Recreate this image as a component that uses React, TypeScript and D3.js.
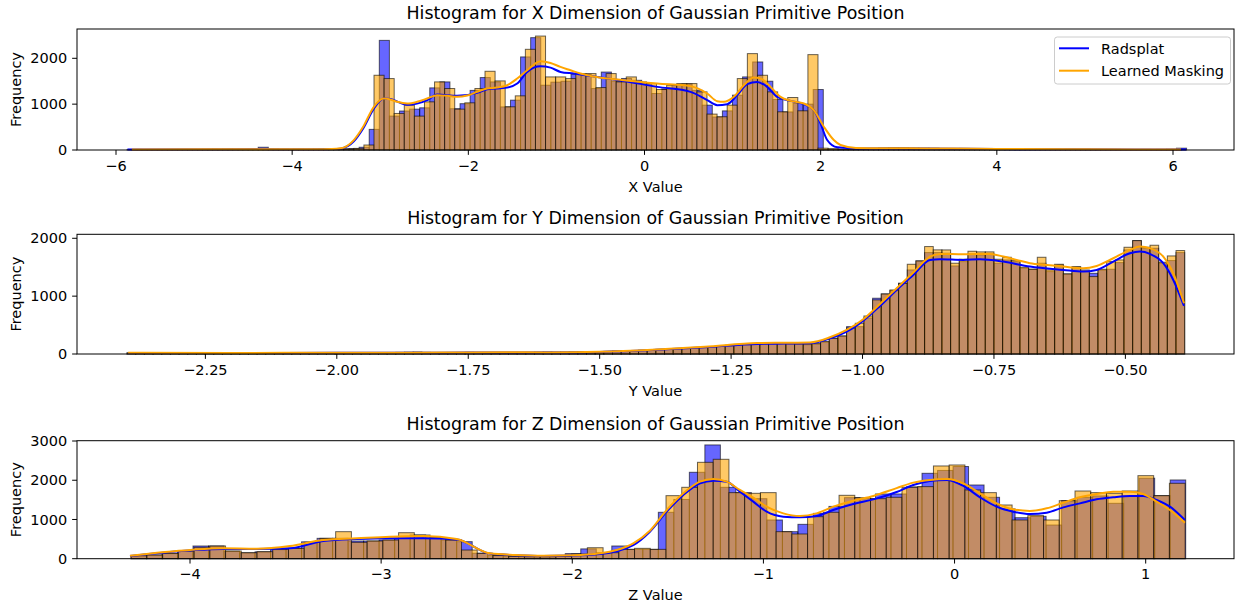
import React from "react";
import * as d3 from "d3";

// ---------------- DATA ----------------
// Panel X
const xTicks = [-6, -4, -2, 0, 2, 4, 6];
const xYTicks = [0, 1000, 2000];
const xOrangeStart = -5.8204;
const xBlueStart = -5.8748;
const xBinWidth = 0.11456;
const xOrangeCounts = [
  12, 8, 6, 10, 8, 12, 10, 14, 18, 22, 16, 12, 10, 12, 14, 16, 20, 18, 22, 26, 30,
  25, 35, 109, 1630, 1558, 797, 978, 739, 1050, 1485,
  1341, 891, 1029, 1341, 1717, 1507, 942, 1181, 2196, 2485,
  1594, 1594, 1558, 1667, 1667, 1362, 1667, 1485, 1594, 1485,
  1449, 1319, 1413, 1449, 1449, 1268, 783, 725, 978, 1558,
  2102, 1630, 1268, 833, 1145, 855, 2080, 40,
  30, 22, 18, 25, 35, 45, 50, 48, 42, 40, 38, 32, 30, 34, 28, 24, 22, 20, 18, 16,
  15, 14, 15, 13, 12, 14, 12, 10, 12, 11, 10, 12, 10, 9, 12,
];
const xBlueCounts = [
  10, 8, 6, 8, 10, 12, 8, 10, 14, 12, 16, 18, 20, 60, 22, 16, 12, 14, 16, 20, 22, 25, 30,
  60, 450, 2391, 740, 850, 891, 920, 1355, 1485, 900,
  1010, 1300, 1580, 1485, 940, 1087, 2030, 2450, 1413, 1480,
  1500, 1650, 1650, 1340, 1700, 1500, 1560, 1520, 1450, 1232,
  1330, 1430, 1440, 1300, 978, 720, 853, 1196, 1594, 1920,
  1500, 1101, 830, 1015, 1000, 1319,
  15, 12, 10, 12, 20, 28, 35, 38, 36, 30, 28, 25, 22, 24, 20, 18, 16, 15, 14, 13,
  12, 12, 11, 10, 12, 10, 9, 10, 11, 9, 10, 8, 10, 12, 15, 40,
];
const xOrangeKdeX = [-5.82, -5.0, -4.4, -4.0, -3.7, -3.55, -3.451, -3.3, -3.194, -3.073, -2.96, -2.884, -2.808, -2.694, -2.581, -2.467, -2.354, -2.24, -2.127, -2.013, -1.9, -1.786, -1.672, -1.559, -1.445, -1.332, -1.181, -1.067, -0.954, -0.84, -0.727, -0.613, -0.235, 0.144, 0.522, 0.712, 0.825, 0.901, 1.014, 1.128, 1.241, 1.317, 1.431, 1.544, 1.658, 1.809, 1.922, 2.036, 2.149, 2.225, 2.4, 2.7, 3.0, 3.5, 4.0, 5.0, 6.09];
const xOrangeKdeY = [12, 14, 18, 16, 18, 22, 36, 217, 507, 942, 1123, 1101, 1051, 1014, 1051, 1123, 1196, 1181, 1160, 1188, 1268, 1341, 1362, 1413, 1558, 1739, 1935, 1899, 1812, 1739, 1667, 1616, 1522, 1449, 1391, 1232, 1065, 1051, 1160, 1413, 1580, 1558, 1377, 1160, 1072, 1014, 870, 507, 217, 109, 45, 38, 40, 30, 22, 15, 12];
const xBlueKdeX = [-5.87, -5.0, -4.4, -4.0, -3.7, -3.55, -3.451, -3.3, -3.194, -3.073, -2.96, -2.884, -2.694, -2.467, -2.354, -2.127, -1.9, -1.786, -1.559, -1.445, -1.332, -1.181, -1.067, -0.954, -0.802, -0.613, -0.235, 0.144, 0.522, 0.712, 0.825, 0.939, 1.052, 1.166, 1.279, 1.393, 1.506, 1.658, 1.809, 1.922, 1.998, 2.074, 2.188, 2.4, 3.0, 4.0, 5.0, 6.15];
const xBlueKdeY = [12, 15, 22, 16, 16, 20, 30, 190, 470, 900, 1123, 1110, 985, 1087, 1210, 1181, 1246, 1326, 1362, 1449, 1703, 1826, 1797, 1703, 1667, 1616, 1507, 1377, 1268, 1087, 978, 1000, 1196, 1435, 1485, 1377, 1160, 1072, 1000, 870, 580, 217, 58, 35, 35, 20, 15, 12];

// Panel Y
const yTicks = [-2.25, -2.0, -1.75, -1.5, -1.25, -1.0, -0.75, -0.5];
const yYTicks = [0, 1000, 2000];
const yBinStart = -2.399;
const yBinWidth = 0.01649;
const yOrangeCounts = [
  20, 18, 15, 16, 14, 18, 15, 14, 16, 18, 15, 16, 18, 20, 18, 16, 18, 20, 22, 20,
  18, 22, 24, 20, 22, 25, 24, 22, 20, 22, 25, 28, 30, 32, 28, 25, 22, 24, 26, 28,
  25, 22, 20, 22, 24, 26, 28, 30, 32, 30, 32, 35, 38, 40, 42,
  45, 50, 55, 60, 66, 72, 80, 88, 95, 102, 110, 120, 130, 140, 152, 165, 175, 182, 188, 192,
  190, 185, 178, 172, 180, 215,
  271, 311, 450, 531, 657, 935, 1038, 1107, 1222, 1551,
  1609, 1857, 1800, 1799, 1569, 1638, 1776, 1765, 1765, 1638,
  1672, 1615, 1499, 1465, 1672, 1453, 1551, 1384, 1511, 1453,
  1338, 1465, 1597, 1626, 1845, 1960, 1845, 1880, 1586, 1695, 1788,
];
const yBlueCounts = [
  18, 16, 14, 15, 13, 16, 14, 13, 15, 16, 14, 15, 16, 18, 17, 15, 16, 18, 20, 19,
  17, 20, 22, 19, 20, 23, 22, 20, 19, 20, 23, 26, 28, 30, 26, 23, 20, 22, 24, 26,
  23, 20, 19, 20, 22, 24, 26, 28, 30, 28, 30, 32, 35, 37, 39,
  42, 46, 50, 55, 60, 66, 73, 80, 87, 94, 101, 110, 120, 130, 140, 152, 160, 168, 172, 176,
  175, 170, 165, 160, 170, 205,
  271, 311, 473, 473, 623, 964, 1038, 1096, 1222, 1453,
  1609, 1753, 1753, 1742, 1522, 1597, 1730, 1713, 1730, 1569,
  1626, 1597, 1482, 1465, 1569, 1424, 1540, 1384, 1500, 1430,
  1395, 1450, 1465, 1580, 1799, 1960, 1828, 1828, 1569, 1615, 1753,
];
const yOrangeKdeX = [-2.397, -2.2, -2.0, -1.9, -1.8, -1.68, -1.6, -1.5, -1.4, -1.3, -1.2, -1.15, -1.1, -1.0619, -1.0302, -0.9986, -0.9668, -0.9351, -0.9035, -0.8717, -0.8527, -0.8084, -0.7576, -0.7323, -0.7068, -0.6815, -0.6497, -0.6181, -0.5801, -0.5546, -0.523, -0.4912, -0.4722, -0.4532, -0.4279, -0.4089, -0.3885];
const yOrangeKdeY = [20, 18, 22, 22, 24, 32, 28, 40, 75, 125, 190, 195, 200, 289, 415, 600, 865, 1136, 1407, 1684, 1730, 1724, 1730, 1684, 1626, 1569, 1540, 1511, 1482, 1522, 1655, 1799, 1857, 1828, 1684, 1395, 877];
const yBlueKdeX = [-2.397, -2.2, -2.0, -1.9, -1.8, -1.68, -1.6, -1.5, -1.4, -1.3, -1.2, -1.15, -1.1, -1.0619, -1.0302, -0.9986, -0.9668, -0.9351, -0.9035, -0.8717, -0.8527, -0.8084, -0.7766, -0.7323, -0.6815, -0.6181, -0.5801, -0.5546, -0.523, -0.4912, -0.4722, -0.4532, -0.4279, -0.4089, -0.3885];
const yBlueKdeY = [18, 16, 20, 20, 22, 28, 26, 36, 68, 115, 175, 180, 185, 271, 386, 577, 831, 1107, 1367, 1626, 1638, 1626, 1638, 1597, 1511, 1453, 1424, 1453, 1597, 1742, 1770, 1730, 1569, 1280, 831];

// Panel Z
const zTicks = [-4, -3, -2, -1, 0, 1];
const zYTicks = [0, 1000, 2000, 3000];
const zOrangeStart = -4.3078;
const zOrangeWidth = 0.0823;
const zBlueStart = -4.3089;
const zBlueWidth = 0.08115;
const zOrangeCounts = [
  77, 94, 136, 196, 290, 324, 196, 153, 179, 238,
  264, 417, 519, 689, 417, 451, 476, 663, 604, 536,
  476, 221, 136, 80, 60, 50, 50, 60, 120, 280,
  153, 238, 264, 238, 1607, 1820, 2457, 2534, 1684, 1667,
  1684, 689, 630, 1071, 1183, 1616, 1556, 1530, 1565, 1820,
  1837, 2364, 2389, 1752, 1684, 1369, 987, 1097, 987, 1479,
  1726, 1684, 1667, 1726, 2117, 1607, 1922,
];
const zBlueCounts = [
  70, 94, 130, 190, 324, 324, 190, 150, 175, 230,
  260, 430, 519, 519, 451, 451, 476, 520, 604, 536,
  476, 434, 140, 80, 60, 50, 50, 60, 130, 250,
  150, 324, 238, 238, 1183, 1510, 2203, 2900, 1820, 1684,
  1530, 987, 689, 876, 1155, 1333, 1556, 1530, 1650, 1650,
  1830, 2177, 2250, 2350, 1879, 1565, 1270, 1045, 1080, 859,
  1479, 1565, 1600, 1412, 1599, 2052, 1607, 2007,
];
const zOrangeKdeX = [-4.314, -4.0, -3.826, -3.651, -3.477, -3.303, -3.128, -2.954, -2.78, -2.605, -2.431, -2.3, -2.15, -2.0, -1.855, -1.768, -1.681, -1.594, -1.506, -1.419, -1.332, -1.262, -1.192, -1.123, -1.053, -0.983, -0.896, -0.809, -0.721, -0.635, -0.53, -0.425, -0.303, -0.216, -0.129, -0.041, 0.046, 0.133, 0.22, 0.307, 0.394, 0.482, 0.569, 0.656, 0.743, 0.83, 0.918, 0.987, 1.057, 1.127, 1.205];
const zOrangeKdeY = [77, 222, 264, 255, 324, 476, 519, 561, 578, 502, 136, 95, 75, 85, 137, 221, 391, 714, 1241, 1667, 1964, 2032, 1964, 1752, 1556, 1326, 1156, 1088, 1156, 1326, 1479, 1600, 1800, 1939, 2007, 2032, 1922, 1667, 1411, 1258, 1216, 1284, 1428, 1565, 1650, 1709, 1709, 1650, 1454, 1241, 918];
const zBlueKdeX = [-4.314, -4.0, -3.826, -3.651, -3.477, -3.303, -3.128, -2.954, -2.78, -2.605, -2.431, -2.3, -2.15, -2.0, -1.855, -1.681, -1.594, -1.506, -1.419, -1.332, -1.262, -1.192, -1.123, -1.053, -0.983, -0.896, -0.809, -0.721, -0.635, -0.53, -0.425, -0.303, -0.216, -0.129, -0.041, 0.046, 0.133, 0.22, 0.307, 0.394, 0.482, 0.569, 0.656, 0.743, 0.83, 0.918, 0.987, 1.057, 1.127, 1.205];
const zBlueKdeY = [70, 210, 250, 245, 264, 450, 500, 519, 519, 490, 130, 90, 70, 80, 119, 349, 689, 1199, 1624, 1922, 1990, 1964, 1709, 1454, 1199, 1071, 1054, 1088, 1241, 1394, 1513, 1700, 1879, 1981, 2007, 1854, 1565, 1326, 1199, 1139, 1173, 1309, 1411, 1513, 1565, 1599, 1599, 1497, 1326, 986];

const seriesNames = ["Radsplat", "Learned Masking"];
const titles = [
  "Histogram for X Dimension of Gaussian Primitive Position",
  "Histogram for Y Dimension of Gaussian Primitive Position",
  "Histogram for Z Dimension of Gaussian Primitive Position",
];
const xLabels = ["X Value", "Y Value", "Z Value"];

// ---------------- LAYOUT ----------------
const W = 1236;
const H = 607;
const LEFT = 77;
const RIGHT = 1234;
const FONT = "'DejaVu Sans', sans-serif";
const BLUE = "#0000ff";
const ORANGE = "#ffa500";
const TICK = 4.86;
const PAD = 4.86;
const FS = 14.5;
const TFS = 17.4;

type Hist = { start: number; width: number; counts: number[] };
type Panel = {
  title: string;
  xLabel: string;
  top: number;
  bottom: number;
  xDomain: [number, number];
  yMax: number;
  xTicks: number[];
  yTicks: number[];
  xFmt: (v: number) => string;
  blue: Hist;
  orange: Hist;
  blueKde: [number, number][];
  orangeKde: [number, number][];
  legend?: boolean;
};

const zip = (a: number[], b: number[]): [number, number][] => a.map((v, i) => [v, b[i]]);
const intFmt = d3.format("d");

const panels: Panel[] = [
  {
    title: titles[0], xLabel: xLabels[0], top: 29, bottom: 150,
    xDomain: [-6.4428, 6.6925], yMax: 2639,
    xTicks, yTicks: xYTicks, xFmt: d3.format("d"),
    blue: { start: xBlueStart, width: xBinWidth, counts: xBlueCounts },
    orange: { start: xOrangeStart, width: xBinWidth, counts: xOrangeCounts },
    blueKde: zip(xBlueKdeX, xBlueKdeY), orangeKde: zip(xOrangeKdeX, xOrangeKdeY),
    legend: true,
  },
  {
    title: titles[1], xLabel: xLabels[1], top: 234.3, bottom: 354,
    xDomain: [-2.4942, -0.2934], yMax: 2069,
    xTicks: yTicks, yTicks: yYTicks, xFmt: d3.format(".2f"),
    blue: { start: yBinStart, width: yBinWidth, counts: yBlueCounts },
    orange: { start: yBinStart, width: yBinWidth, counts: yOrangeCounts },
    blueKde: zip(yBlueKdeX, yBlueKdeY), orangeKde: zip(yOrangeKdeX, yOrangeKdeY),
  },
  {
    title: titles[2], xLabel: xLabels[2], top: 440.7, bottom: 558.7,
    xDomain: [-4.5912, 1.462], yMax: 3008,
    xTicks: zTicks, yTicks: zYTicks, xFmt: d3.format("d"),
    blue: { start: zBlueStart, width: zBlueWidth, counts: zBlueCounts },
    orange: { start: zOrangeStart, width: zOrangeWidth, counts: zOrangeCounts },
    blueKde: zip(zBlueKdeX, zBlueKdeY), orangeKde: zip(zOrangeKdeX, zOrangeKdeY),
  },
];

function HistPanel({ p }: { p: Panel }) {
  const x = d3.scaleLinear().domain(p.xDomain).range([LEFT, RIGHT]);
  const y = d3.scaleLinear().domain([0, p.yMax]).range([p.bottom, p.top]);
  const bars = (h: Hist, color: string, key: string) =>
    h.counts.map((c, i) => {
      const x0 = x(h.start + i * h.width);
      const x1 = x(h.start + (i + 1) * h.width);
      const yt = y(c);
      return (
        <rect
          key={key + i}
          x={x0}
          y={yt}
          width={x1 - x0}
          height={p.bottom - yt}
          fill={color}
          fillOpacity={0.6}
          stroke="#000"
          strokeOpacity={0.6}
          strokeWidth={1}
        />
      );
    });
  const line = d3
    .line<[number, number]>()
    .x((d) => x(d[0]))
    .y((d) => y(d[1]))
    .curve(d3.curveMonotoneX);
  const cx = (LEFT + RIGHT) / 2;
  const cy = (p.top + p.bottom) / 2;
  return (
    <g>
      {bars(p.blue, BLUE, "b")}
      {bars(p.orange, ORANGE, "o")}
      <path d={line(p.blueKde) || ""} fill="none" stroke={BLUE} strokeWidth={2} />
      <path d={line(p.orangeKde) || ""} fill="none" stroke={ORANGE} strokeWidth={2} />
      <rect x={LEFT} y={p.top} width={RIGHT - LEFT} height={p.bottom - p.top} fill="none" stroke="#000" strokeWidth={1} />
      {p.xTicks.map((t) => (
        <g key={"xt" + t}>
          <line x1={x(t)} x2={x(t)} y1={p.bottom} y2={p.bottom + TICK} stroke="#000" strokeWidth={1} />
          <text x={x(t)} y={p.bottom + TICK + PAD + 10.8} textAnchor="middle" fontSize={FS} fontFamily={FONT} fill="#000">
            {p.xFmt(t)}
          </text>
        </g>
      ))}
      {p.yTicks.map((t) => (
        <g key={"yt" + t}>
          <line x1={LEFT - TICK} x2={LEFT} y1={y(t)} y2={y(t)} stroke="#000" strokeWidth={1} />
          <text x={LEFT - TICK - PAD} y={y(t) + 5.2} textAnchor="end" fontSize={FS} fontFamily={FONT} fill="#000">
            {intFmt(t)}
          </text>
        </g>
      ))}
      <text x={cx} y={p.top - 10.5} textAnchor="middle" fontSize={TFS} fontFamily={FONT} fill="#000">
        {p.title}
      </text>
      <text x={cx} y={p.bottom + 41.5} textAnchor="middle" fontSize={FS} fontFamily={FONT} fill="#000">
        {p.xLabel}
      </text>
      <text
        transform={`translate(20.5,${cy}) rotate(-90)`}
        textAnchor="middle"
        fontSize={FS}
        fontFamily={FONT}
        fill="#000"
      >
        Frequency
      </text>
      {p.legend && (
        <g>
          <rect x={1054.5} y={37} width={176} height={47} rx={2.8} fill="#fff" fillOpacity={0.8} stroke="#cccccc" strokeWidth={1} />
          <line x1={1059} x2={1089} y1={48.3} y2={48.3} stroke={BLUE} strokeWidth={2} />
          <line x1={1059} x2={1089} y1={70.7} y2={70.7} stroke={ORANGE} strokeWidth={2} />
          <text x={1101} y={53.5} fontSize={FS} fontFamily={FONT} fill="#000">{seriesNames[0]}</text>
          <text x={1101} y={75.9} fontSize={FS} fontFamily={FONT} fill="#000">{seriesNames[1]}</text>
        </g>
      )}
    </g>
  );
}

export default function App() {
  return (
    <svg
      width={W}
      height={H}
      viewBox={`0 0 ${W} ${H}`}
      style={{ position: "absolute", left: 0, top: 0, background: "#fff" }}
    >
      <rect x={0} y={0} width={W} height={H} fill="#fff" />
      {panels.map((p, i) => (
        <HistPanel key={i} p={p} />
      ))}
    </svg>
  );
}
